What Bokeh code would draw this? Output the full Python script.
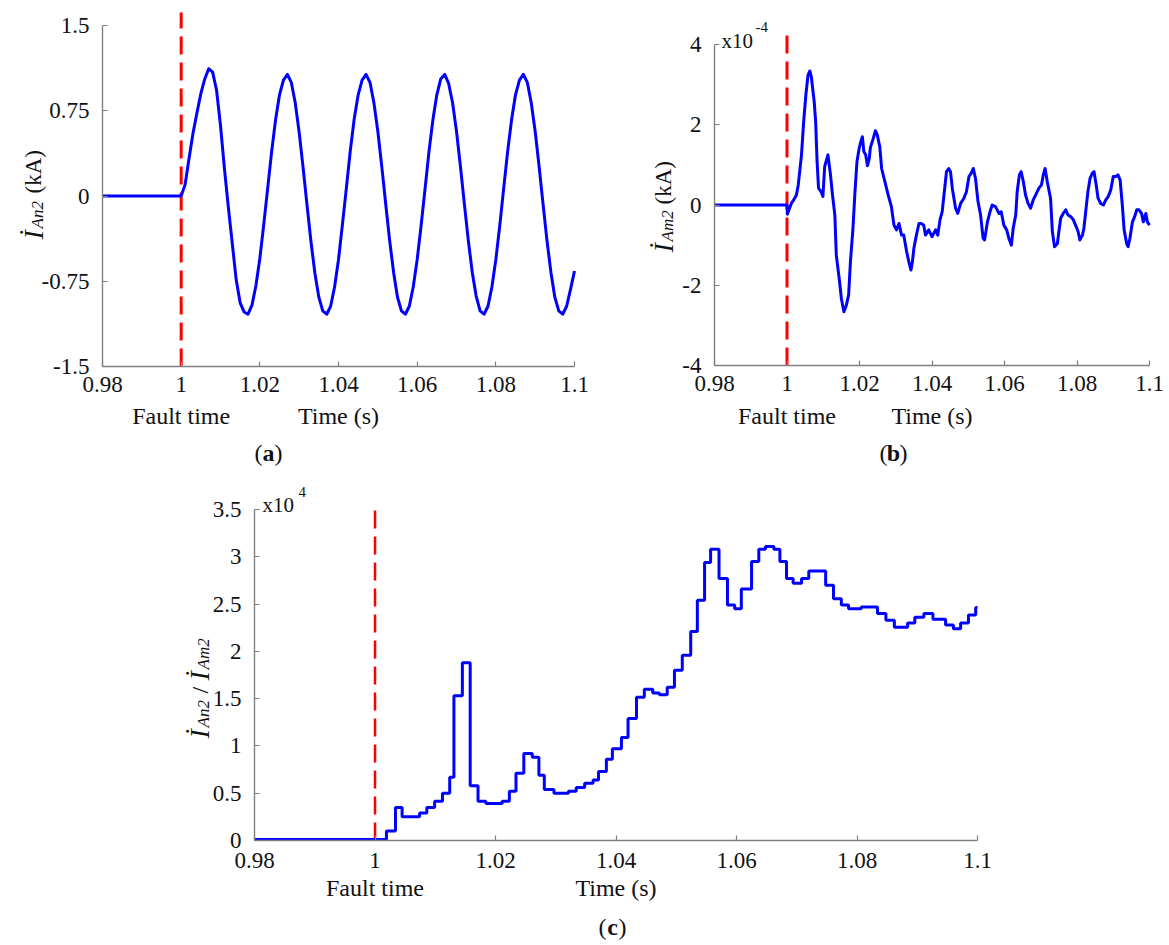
import numpy as np
from bokeh.plotting import figure
from bokeh.models import Range1d, Label, FixedTicker, PrintfTickFormatter
from bokeh.layouts import column, row
from bokeh.embed import file_html
from bokeh.resources import INLINE

# ---------------- data ----------------
fault_time = 1.0
x_ticks = [0.98, 1.0, 1.02, 1.04, 1.06, 1.08, 1.1]
x_lim = (0.98, 1.1)

# (a) I_An2 (kA)
a_pre_t = [0.98, 1.0]
a_pre_v = [0.0, 0.0]
a_t = list(np.round(np.arange(1.000, 1.1005, 0.001), 3))
a_v = [0.00, 0.10, 0.33, 0.55, 0.73, 0.90, 1.03, 1.12, 1.09, 0.93,
       0.62, 0.24, -0.10, -0.42, -0.74, -0.94, -1.02, -1.04, -0.96, -0.79,
       -0.55, -0.25, 0.07, 0.39, 0.67, 0.89, 1.02, 1.07, 1.00, 0.82,
       0.56, 0.25, -0.08, -0.40, -0.68, -0.89, -1.01, -1.04, -0.97, -0.80,
       -0.56, -0.25, 0.07, 0.40, 0.68, 0.89, 1.02, 1.07, 1.00, 0.82,
       0.57, 0.26, -0.07, -0.39, -0.67, -0.89, -1.01, -1.04, -0.97, -0.80,
       -0.56, -0.26, 0.06, 0.39, 0.67, 0.89, 1.03, 1.07, 0.99, 0.82,
       0.57, 0.26, -0.07, -0.39, -0.67, -0.88, -1.01, -1.04, -0.97, -0.80,
       -0.56, -0.26, 0.07, 0.39, 0.67, 0.89, 1.02, 1.07, 1.00, 0.82,
       0.57, 0.26, -0.07, -0.39, -0.67, -0.89, -1.01, -1.04, -0.97, -0.82,
       -0.66]
a_y_lim = (-1.5, 1.5)
a_y_ticks = [-1.5, -0.75, 0, 0.75, 1.5]

# (b) I_Am2 (x1e-4 kA)
b_t = [0.98, 1.0, 1.0001, 1.0012, 1.0018, 1.0026, 1.0031, 1.0040, 1.0046, 1.0052,
       1.0058, 1.0063, 1.0067, 1.0075, 1.0079, 1.0083, 1.0087, 1.0094, 1.0099, 1.0104,
       1.0113, 1.0120, 1.0125, 1.0132, 1.0136, 1.0145, 1.0150, 1.0157, 1.0164, 1.0170,
       1.0175, 1.0182, 1.0187, 1.0193, 1.0199, 1.0205, 1.0208, 1.0212, 1.0217, 1.0222,
       1.0227, 1.0230, 1.0238, 1.0244, 1.0249, 1.0256, 1.0261, 1.0270, 1.0279, 1.0288,
       1.0295, 1.0302, 1.0309, 1.0316, 1.0322, 1.0330, 1.0336, 1.0342, 1.0346, 1.0350,
       1.0357, 1.0364, 1.0370, 1.0377, 1.0382, 1.0391, 1.0400, 1.0410, 1.0416, 1.0422,
       1.0428, 1.0434, 1.0440, 1.0446, 1.0451, 1.0456, 1.0465, 1.0471, 1.0479, 1.0488,
       1.0495, 1.0502, 1.0508, 1.0514, 1.0520, 1.0527, 1.0534, 1.0541, 1.0545, 1.0553,
       1.0560, 1.0566, 1.0575, 1.0585, 1.0591, 1.0598, 1.0606, 1.0612, 1.0619, 1.0624,
       1.0631, 1.0635, 1.0641, 1.0646, 1.0652, 1.0658, 1.0665, 1.0672, 1.0679, 1.0686,
       1.0695, 1.0702, 1.0707, 1.0712, 1.0718, 1.0727, 1.0732, 1.0738, 1.0746, 1.0750,
       1.0755, 1.0762, 1.0769, 1.0775, 1.0783, 1.0790, 1.0796, 1.0803, 1.0808, 1.0815,
       1.0819, 1.0824, 1.0830, 1.0836, 1.0842, 1.0847, 1.0853, 1.0858, 1.0865, 1.0873,
       1.0879, 1.0886, 1.0893, 1.0900, 1.0907, 1.0913, 1.0919, 1.0925, 1.0930, 1.0937,
       1.0941, 1.0946, 1.0953, 1.0959, 1.0965, 1.0971, 1.0978, 1.0983, 1.0990, 1.0994,
       1.1000]
b_v = [0.0, 0.0, -0.23, 0.04, 0.12, 0.25, 0.50, 1.25, 2.08, 2.74,
       3.24, 3.34, 3.20, 2.58, 2.08, 1.08, 0.42, 0.33, 0.21, 0.96,
       1.25, 0.75, 0.29, -0.25, -1.25, -1.91, -2.33, -2.66, -2.49, -2.24,
       -1.41, -0.58, 0.25, 1.08, 1.41, 1.62, 1.70, 1.33, 1.25, 0.98,
       1.16, 1.43, 1.66, 1.85, 1.75, 1.45, 0.91, 0.58, 0.25, -0.04,
       -0.50, -0.62, -0.46, -0.75, -0.75, -1.16, -1.41, -1.62, -1.41, -1.08,
       -0.75, -0.46, -0.46, -0.50, -0.75, -0.62, -0.79, -0.62, -0.75, -0.37,
       -0.17, 0.33, 0.83, 0.91, 0.83, 0.42, -0.08, -0.21, 0.04, 0.17,
       0.33, 0.71, 0.79, 0.91, 0.66, 0.08, -0.25, -0.83, -0.87, -0.42,
       -0.17, 0.00, -0.04, -0.21, -0.17, -0.50, -0.62, -0.83, -1.00, -0.58,
       -0.25, 0.33, 0.75, 0.83, 0.58, 0.25, 0.04, -0.08, 0.12, 0.25,
       0.42, 0.50, 0.75, 0.91, 0.58, 0.17, -0.66, -1.04, -0.96, -0.66,
       -0.33, -0.21, -0.12, -0.25, -0.29, -0.37, -0.50, -0.66, -0.87, -0.75,
       -0.58, -0.17, 0.33, 0.66, 0.79, 0.83, 0.50, 0.17, 0.04, 0.00,
       0.12, 0.21, 0.37, 0.71, 0.71, 0.75, 0.62, 0.00, -0.62, -0.96,
       -1.04, -0.83, -0.42, -0.29, -0.12, -0.12, -0.21, -0.42, -0.21, -0.42,
       -0.50]
b_y_lim = (-4, 4)
b_y_ticks = [-4, -2, 0, 2, 4]

# (c) ratio I_An2 / I_Am2 (x1e4), sample-and-hold steps
c_t = [0.98, 1.0019, 1.0034, 1.0045, 1.0074, 1.0086, 1.0099, 1.0112, 1.0124, 1.0131,
       1.0145, 1.0158, 1.0171, 1.0184, 1.0211, 1.0223, 1.0234, 1.0247, 1.0261, 1.0272,
       1.0281, 1.0297, 1.0321, 1.0334, 1.0348, 1.0362, 1.0371, 1.0384, 1.0394, 1.0409,
       1.0420, 1.0434, 1.0447, 1.0461, 1.0472, 1.0485, 1.0497, 1.0510, 1.0524, 1.0535,
       1.0547, 1.0557, 1.0571, 1.0585, 1.0597, 1.0608, 1.0625, 1.0637, 1.0648, 1.0662,
       1.0672, 1.0683, 1.0694, 1.0708, 1.0720, 1.0748, 1.0761, 1.0774, 1.0786, 1.0807,
       1.0834, 1.0848, 1.0862, 1.0884, 1.0896, 1.0911, 1.0926, 1.0947, 1.0960, 1.0972,
       1.0985, 1.0997, 1.1000]
c_v = [0.01, 0.10, 0.35, 0.25, 0.29, 0.35, 0.415, 0.50, 0.67, 1.53,
       1.88, 0.58, 0.415, 0.39, 0.415, 0.52, 0.71, 0.92, 0.88, 0.69,
       0.54, 0.50, 0.52, 0.56, 0.605, 0.64, 0.73, 0.86, 0.97, 1.09,
       1.29, 1.515, 1.60, 1.56, 1.54, 1.62, 1.80, 1.96, 2.21, 2.54,
       2.94, 3.08, 2.77, 2.49, 2.45, 2.66, 2.95, 3.08, 3.11, 3.08,
       2.95, 2.77, 2.72, 2.77, 2.85, 2.70, 2.555, 2.49, 2.45, 2.47,
       2.40, 2.33, 2.255, 2.30, 2.36, 2.40, 2.34, 2.28, 2.24, 2.30,
       2.385, 2.465, 2.465]
c_y_lim = (0, 3.5)
c_y_ticks = [0, 0.5, 1, 1.5, 2, 2.5, 3, 3.5]

# ---------------- styling ----------------
SERIF = "Liberation Serif"
BLUE = "#0000ff"
RED = "#ff0000"
AXIS_GRAY = "#808080"
TXT = "#111111"
V = np.pi / 2


class Panel:
    """A figure whose frame fills its whole canvas; axes sit at fixed data
    locations so that every text can live inside the frame."""

    def __init__(self, ox, oy, W, H, X0, X1, Y1, Y0, xlim, ylim, yticks,
                 xstand=8, ystand=13):
        self.ox, self.oy = ox, oy
        x0, x1 = xlim
        y0, y1 = ylim
        sx = (X1 - X0) / (x1 - x0)
        sy = (Y0 - Y1) / (y1 - y0)
        self.sx, self.sy, self.X0, self.Y0, self.x0, self.y0 = sx, sy, X0, Y0, x0, y0
        xr = (x0 - (X0 - ox) / sx, x0 + (ox + W - X0) / sx)
        yr = (y0 - (oy + H - Y0) / sy, y0 + (Y0 - oy) / sy)
        p = figure(frame_width=W, frame_height=H, min_border=0,
                   x_range=Range1d(*xr), y_range=Range1d(*yr),
                   output_backend="svg", toolbar_location=None,
                   background_fill_color="white", border_fill_color="white")
        p.outline_line_color = None
        p.grid.visible = False
        p.xaxis.ticker = FixedTicker(ticks=x_ticks)
        p.yaxis.ticker = FixedTicker(ticks=yticks)
        p.xaxis.bounds = xlim
        p.yaxis.bounds = ylim
        p.xaxis.fixed_location = y0
        p.yaxis.fixed_location = x0
        for ax in (p.xaxis[0], p.yaxis[0]):
            ax.formatter = PrintfTickFormatter(format="%g")
            ax.axis_line_color = AXIS_GRAY
            ax.axis_line_width = 1.4
            ax.major_tick_line_color = AXIS_GRAY
            ax.major_tick_line_width = 1.2
            ax.major_tick_in = 5
            ax.major_tick_out = 0
            ax.minor_tick_line_color = None
            ax.major_label_text_font = SERIF
            ax.major_label_text_font_size = "23px"
            ax.major_label_text_color = TXT
        p.yaxis.major_label_standoff = ystand
        p.xaxis.major_label_standoff = xstand
        self.p = p

    def dx(self, px):
        return self.x0 + (px - self.X0) / self.sx

    def dy(self, py):
        return self.y0 + (self.Y0 - py) / self.sy

    def text(self, px, py, text, size=24, style="normal", align="left",
             baseline="alphabetic", angle=0.0):
        self.p.add_layout(Label(x=self.dx(px), y=self.dy(py), text=text,
                                text_font=SERIF, text_font_size=f"{size}px",
                                text_font_style=style, text_color=TXT,
                                text_align=align, text_baseline=baseline,
                                angle=angle))

    def fault_line(self, top_py, width):
        self.p.line([fault_time, fault_time], [self.y0, self.dy(top_py)],
                    line_color=RED, line_width=width, line_dash="18 8")

    def xlabels(self, py):
        for t, s in ((fault_time, "Fault time"), (1.04, "Time (s)")):
            self.p.add_layout(Label(x=t, y=self.dy(py), text=s, text_font=SERIF,
                                    text_font_size="24px", text_color=TXT,
                                    text_align="center", text_baseline="middle"))

    def letter(self, cx, cy, ch):
        self.text(cx - 6, cy, "(", 24, "normal", "right", "middle")
        self.text(cx, cy, ch, 24, "bold", "center", "middle")
        self.text(cx + 6, cy, ")", 24, "normal", "left", "middle")


# ---- (a)
A = Panel(0, 0, 600, 470, 102, 574, 25, 366, x_lim, a_y_lim, a_y_ticks, xstand=10)
A.fault_line(12, 3)
A.p.line(a_pre_t, a_pre_v, line_color=BLUE, line_width=3)
A.p.line(a_t, a_v, line_color=BLUE, line_width=3, line_join="round")
A.xlabels(415)
A.letter(268, 452, "a")
A.text(33, 239, "İ", 28, "italic", angle=V)
A.text(37, 228, "An2", 17, "italic", angle=V)
A.text(33, 193, "(kA)", 23, "normal", angle=V)

# ---- (b)
B = Panel(600, 0, 569, 470, 714, 1149, 44, 365, x_lim, b_y_lim, b_y_ticks, xstand=10)
B.fault_line(33, 3)
B.p.line(b_t, b_v, line_color=BLUE, line_width=3, line_join="round")
B.xlabels(415)
B.letter(893, 452, "b")
B.text(663, 252, "İ", 28, "italic", angle=V)
B.text(667, 241, "Am2", 17, "italic", angle=V)
B.text(663, 204, "(kA)", 23, "normal", angle=V)
B.text(721, 40, "x10", 21, "normal")
B.text(755, 26, "-4", 15, "normal")

# ---- (c)
C = Panel(0, 470, 1169, 470, 254, 977, 509, 840, x_lim, c_y_lim, c_y_ticks, xstand=12)
C.fault_line(506, 2.5)
C.p.step(c_t, c_v, mode="after", line_color=BLUE, line_width=3)
C.xlabels(887)
C.letter(612, 926, "c")
C.text(199, 738, "İ", 28, "italic", angle=V)
C.text(203, 727, "An2", 17, "italic", angle=V)
C.text(199, 693, "/", 24, "normal", angle=V)
C.text(199, 680, "İ", 28, "italic", angle=V)
C.text(203, 669, "Am2", 17, "italic", angle=V)
C.text(262, 504, "x10", 21, "normal")
C.text(298, 491, "4", 15, "normal")

layout = column(row(A.p, B.p), C.p)
open("out.html", "w").write(file_html(layout, INLINE))
